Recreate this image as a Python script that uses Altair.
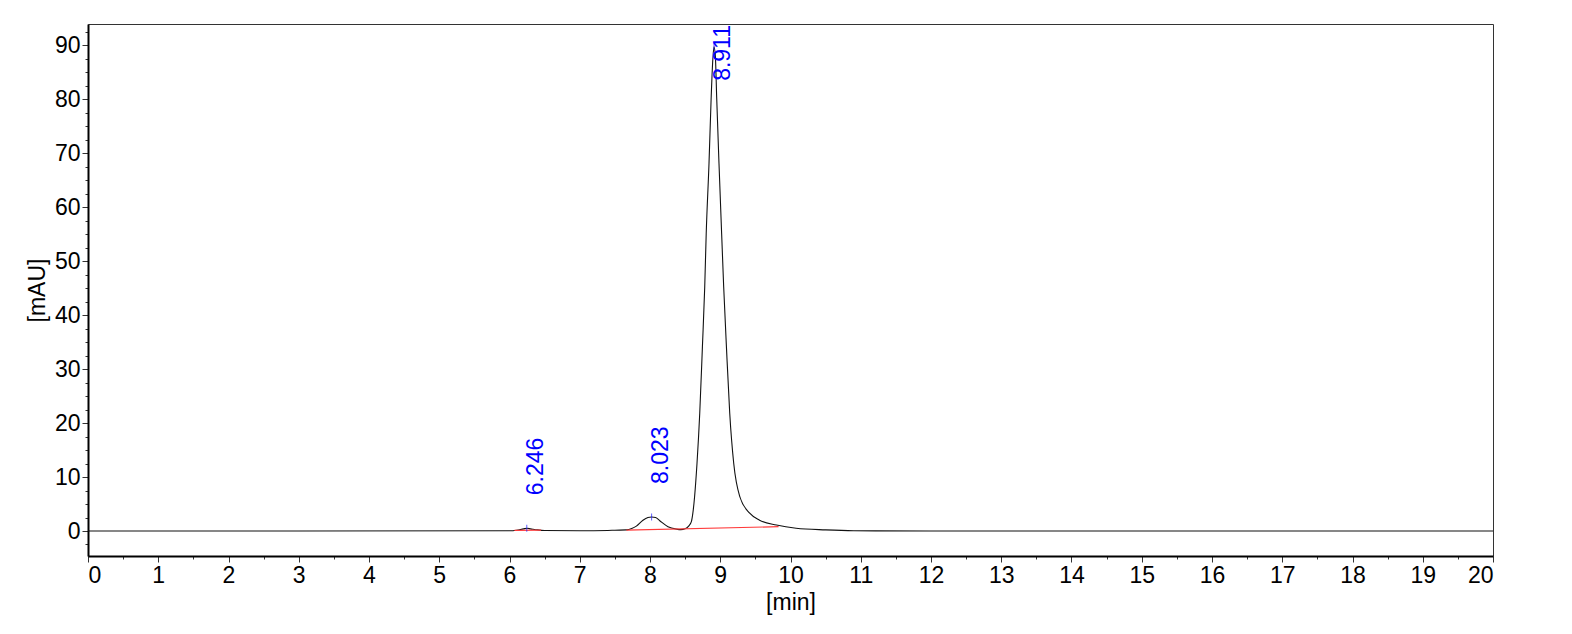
import altair as alt
import pandas as pd

# Chromatogram signal (min, mAU)
sig_t = [0.0, 3.0, 6.0, 6.1, 6.2, 6.25, 6.3, 6.4, 6.5, 7.0, 7.4, 7.5, 7.664, 7.74, 7.806, 7.90, 7.97,
         8.023, 8.08, 8.139, 8.256, 8.376, 8.44, 8.50, 8.55, 8.59, 8.61, 8.635, 8.669, 8.708, 8.746,
         8.779, 8.80, 8.840, 8.87, 8.895, 8.911, 8.93, 8.95, 8.982, 9.02, 9.049, 9.088, 9.135, 9.192,
         9.277, 9.419, 9.56, 9.80, 10.08, 10.5, 10.9, 12.0, 16.0, 20.0]
sig_v = [0.0, 0.0, 0.05, 0.15, 0.4, 0.5, 0.4, 0.2, 0.1, 0.05, 0.1, 0.15, 0.2, 0.45, 0.9, 2.0, 2.5,
         2.6, 2.5, 1.9, 0.8, 0.35, 0.25, 0.4, 0.9, 1.8, 3.3, 6.4, 12.5, 21.8, 34.1,
         45.2, 55.0, 68.1, 80.0, 87.5, 89.7, 88.0, 80.0, 68.1, 55.0, 45.2, 34.1, 21.8, 12.5,
         6.4, 3.3, 2.0, 1.1, 0.5, 0.2, 0.05, 0.0, 0.0, 0.0]

# Peaks
peak_t = [6.246, 8.023, 8.911]
peak_h = [0.5, 2.6, 89.7]
peak_lbl = ["6.246", "8.023", "8.911"]

# Integration baselines
base_t = [6.07, 6.45, 7.664, 9.83]
base_v = [0.1, 0.15, 0.15, 0.8]
base_id = [1, 1, 2, 2]

sig = pd.DataFrame({"t": sig_t, "v": sig_v})
peaks = pd.DataFrame({"t": peak_t, "v": peak_h, "lbl": peak_lbl})
base = pd.DataFrame({"t": base_t, "v": base_v, "g": base_id})

FONT = "Liberation Sans"
xdom = [0, 20]
ydom = [-4.63, 93.9]

x_vals = [i * 0.5 for i in range(0, 41)]
y_vals = [-2.5 + i * 2.5 for i in range(0, 39)]

xscale = alt.Scale(domain=xdom, nice=False, zero=False)
yscale = alt.Scale(domain=ydom, nice=False, zero=False)

xaxis = alt.Axis(
    title="[min]", values=x_vals,
    labelExpr="datum.value % 1 === 0 ? format(datum.value, 'd') : ''",
    tickSize={"condition": {"test": "datum.value % 1 === 0", "value": 6}, "value": 3},
    labelOverlap=False, grid=False, labelPadding=2, titlePadding=4,
)
yaxis = alt.Axis(
    title="[mAU]", values=y_vals,
    labelExpr="datum.value % 10 === 0 ? format(datum.value, 'd') : ''",
    tickSize={"condition": {"test": "datum.value % 10 === 0", "value": 6}, "value": 3},
    labelOverlap=False, grid=False, labelPadding=2, titlePadding=5,
)

X = alt.X("t:Q", scale=xscale, axis=xaxis)
Y = alt.Y("v:Q", scale=yscale, axis=yaxis)

line = alt.Chart(sig).mark_line(color="#111111", strokeWidth=1.1, interpolate="monotone").encode(
    x=X, y=Y, order="t:Q",
)

baseline = alt.Chart(base).mark_line(color="#ff3b3b", strokeWidth=1.2).encode(
    x=X, y=Y, detail="g:N",
)

ticks = alt.Chart(peaks).mark_tick(orient="vertical", size=7, thickness=1, color="#1a1aff").encode(
    x=X, y=Y,
)

small_lbl = alt.Chart(peaks).transform_filter("datum.v < 50").mark_text(
    angle=270, align="left", baseline="middle", dx=33, dy=9,
    font=FONT, fontSize=23, color="#0000ff",
).encode(
    x=X, y=Y, text="lbl:N",
)

big_lbl = alt.Chart(peaks).transform_filter("datum.v >= 50").mark_text(
    angle=270, align="right", baseline="middle", dy=9,
    font=FONT, fontSize=23, color="#0000ff",
).encode(
    x=X, y=alt.value(1), text="lbl:N",
)

chart = alt.layer(line, baseline, ticks, small_lbl, big_lbl).properties(
    width=1405, height=532,
    autosize=alt.AutoSizeParams(type="none"),
    padding={"left": 80, "top": 16, "right": 60, "bottom": 60},
    background="white",
).configure_view(
    stroke="#333333", strokeWidth=1,
).configure_axis(
    labelFont=FONT, titleFont=FONT, labelFontSize=23, titleFontSize=23,
    labelColor="black", titleColor="black", titleFontWeight="normal",
    domainColor="black", domainWidth=2, tickColor="#333333", tickWidth=1,
)

chart.save("out.html", embed_options={"renderer": "svg", "actions": False})
